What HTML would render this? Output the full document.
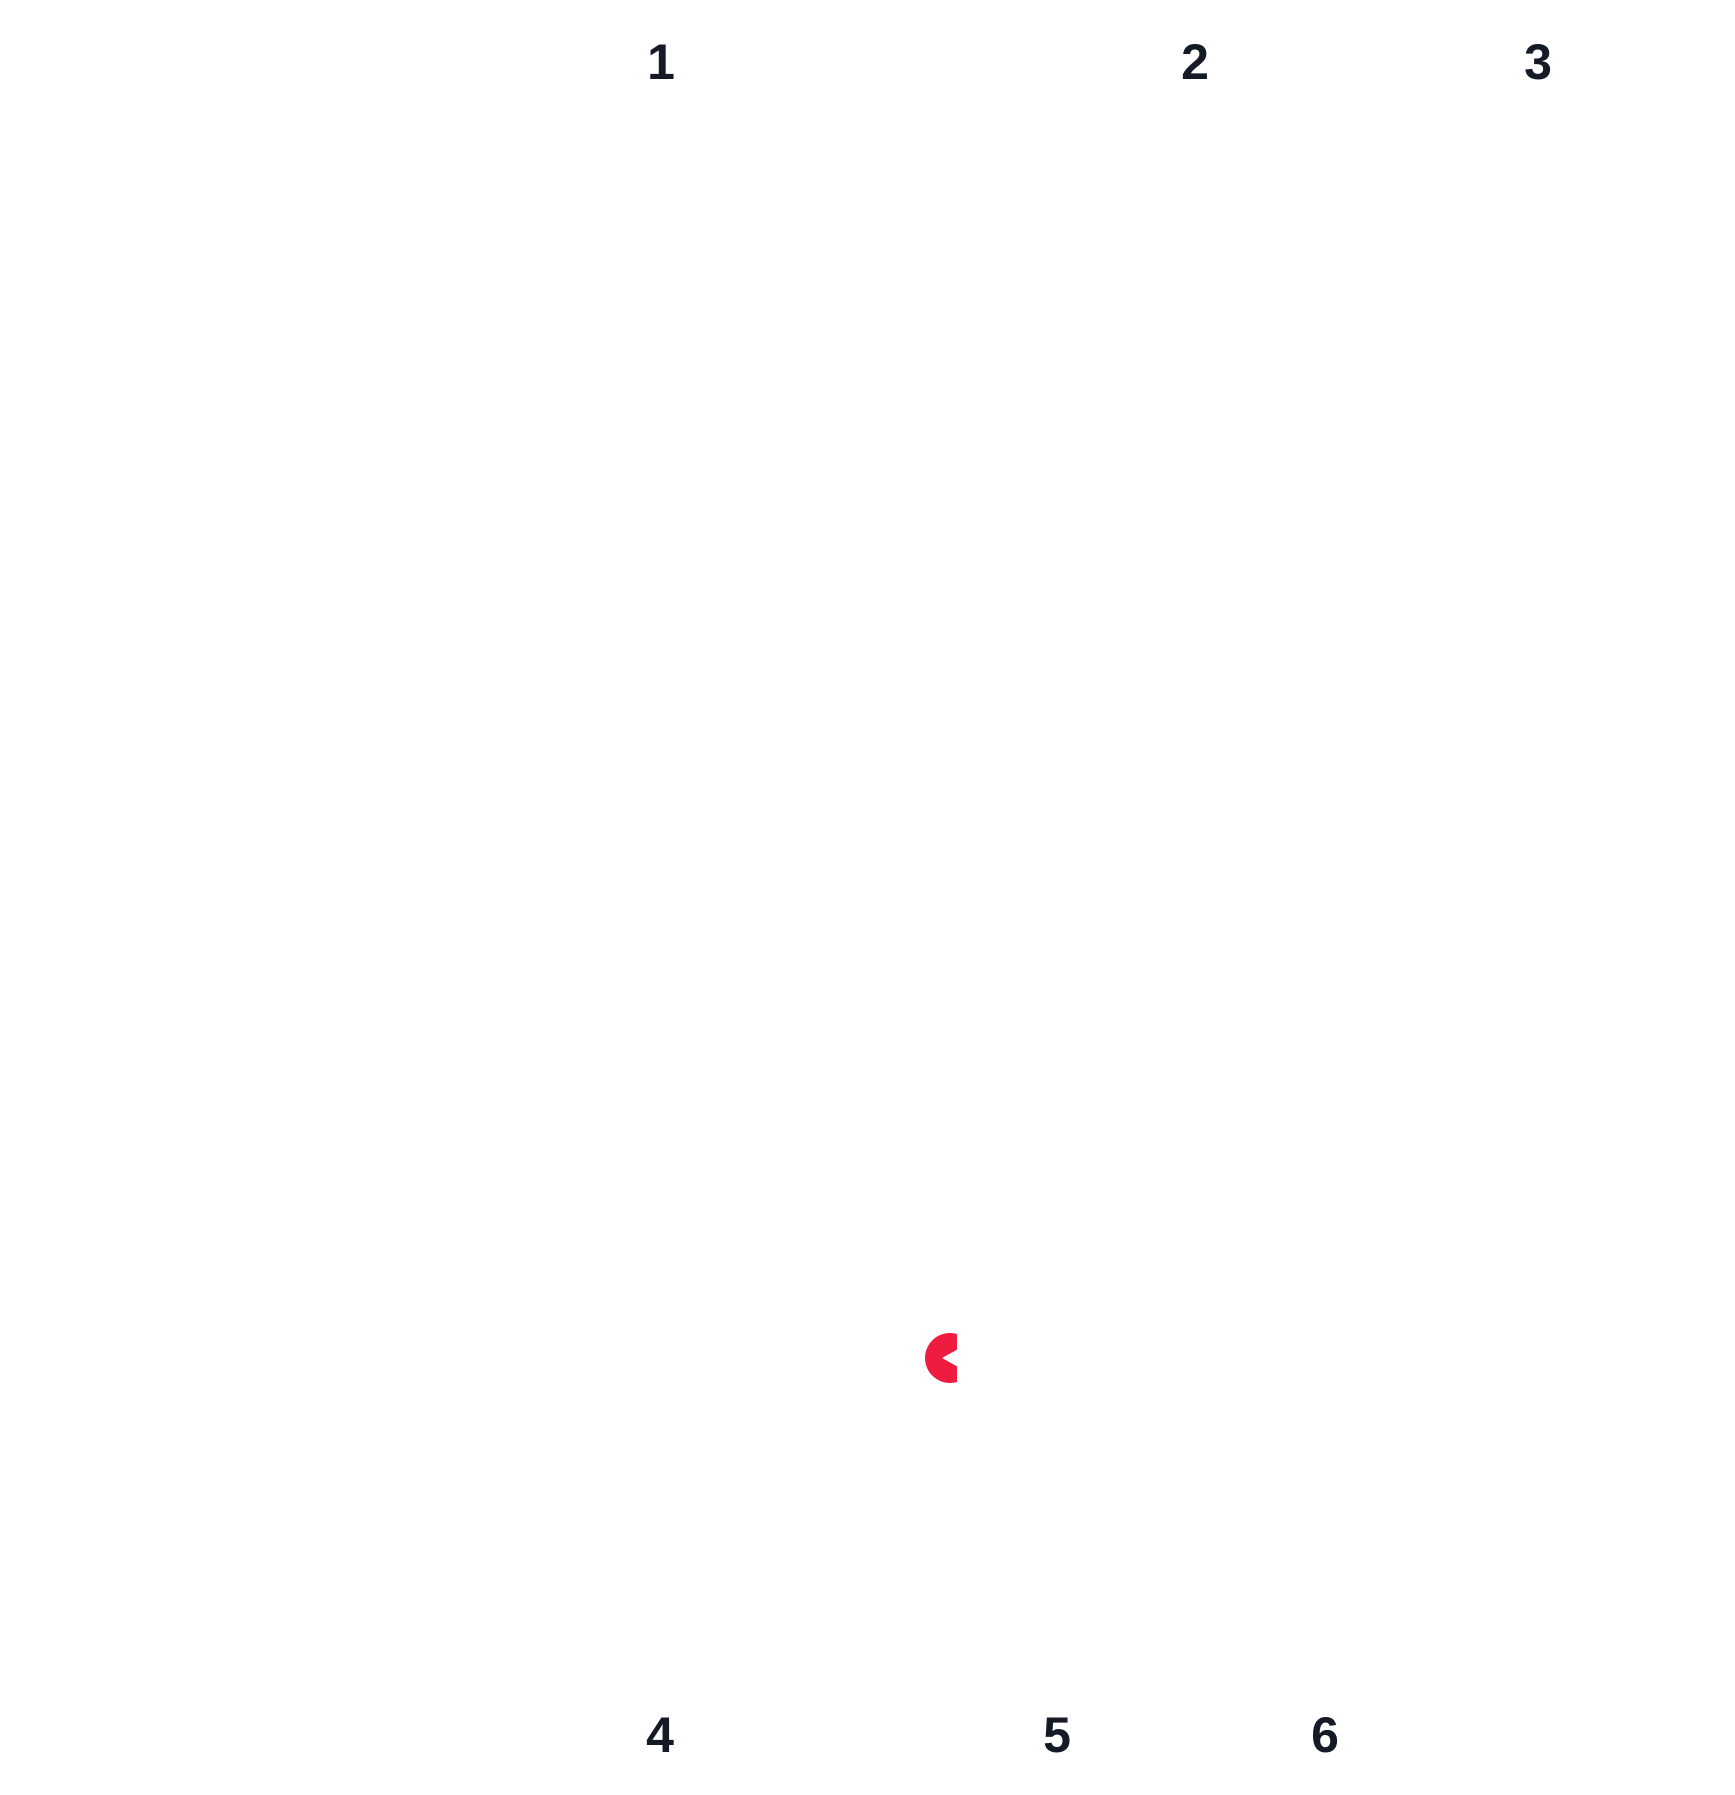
<!DOCTYPE html>
<html><head><style>
html,body{margin:0;padding:0;background:#fff;}
.d{position:absolute;font-family:"Liberation Sans",sans-serif;font-weight:bold;font-size:50px;color:#141a26;transform:translate(-50%,-50%);line-height:1;}
</style></head><body>
<div style="position:relative;width:1735px;height:1795px;overflow:hidden;">
<div class="d" style="left:661px;top:62px;">1</div>
<div class="d" style="left:1195px;top:62px;">2</div>
<div class="d" style="left:1538px;top:62px;">3</div>
<div class="d" style="left:660px;top:1735px;">4</div>
<div class="d" style="left:1057px;top:1735px;">5</div>
<div class="d" style="left:1325px;top:1735px;">6</div>
<svg style="position:absolute;left:0;top:0" width="1735" height="1795">
<defs><clipPath id="c"><rect x="900" y="1300" width="57" height="100"/></clipPath></defs>
<path clip-path="url(#c)" fill="#ee1c3f" d="M950 1358 m-25 0 a25 25 0 1 0 50 0 a25 25 0 1 0 -50 0 Z M942 1358 L960 1348 L960 1368 Z" fill-rule="evenodd"/>
</svg>
</div>
</body></html>
